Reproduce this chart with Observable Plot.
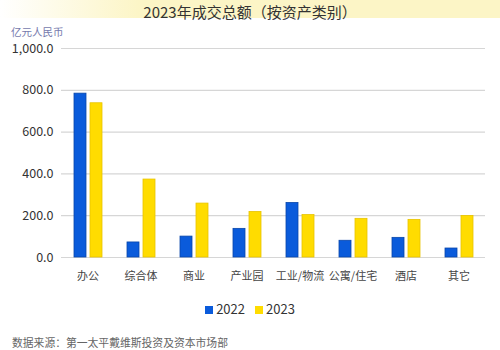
<!DOCTYPE html>
<html>
<head>
<meta charset="utf-8">
<script src="https://cdn.jsdelivr.net/npm/d3@7"></script>
<script src="https://cdn.jsdelivr.net/npm/@observablehq/plot@0.6"></script>
<style>
  html, body { margin: 0; padding: 0; background: #fff; }
  body { width: 500px; height: 350px; position: relative; overflow: hidden;
         font-family: "Noto Sans CJK SC", "Noto Sans", sans-serif; }
  #band { position: absolute; left: 0; top: 0; width: 500px; height: 18px;
          background: linear-gradient(to right, #ffffff 0%, #fcf5c6 28%, #fcf5c6 100%); }
  #title { position: absolute; left: 0; top: 0; width: 500px; text-align: center;
           font-size: 15px; line-height: 23px; font-weight: 400; color: #333; }
  #unit { position: absolute; left: 11px; top: 24px; font-size: 10.5px; line-height: 15px; color: #767aad; }
  #chart { position: absolute; left: 0; top: 38px; }
  #legend { position: absolute; left: 0; top: 300px; width: 500px; text-align: center;
            font-size: 13px; line-height: 18px; color: #333; }
  #legend span.sw { display: inline-block; width: 8px; height: 8px; margin-right: 3px; vertical-align: 0px; }
  #legend span.item { margin: 0 5px; }
  #source { position: absolute; left: 12px; top: 334px; font-size: 10.8px; line-height: 16px; color: #666; }
</style>
</head>
<body>
<div id="band"></div>
<div id="title">2023年成交总额（按资产类别）</div>
<div id="unit">亿元人民币</div>
<div id="chart"></div>
<div id="legend"></div>
<div id="source">数据来源：第一太平戴维斯投资及资本市场部</div>
<script>
const categories = ["办公", "综合体", "商业", "产业园", "工业/物流", "公寓/住宅", "酒店", "其它"];
const years = ["2022", "2023"];
const values2022 = [784, 72, 100, 137, 261, 80, 94, 43];
const values2023 = [738, 373, 258, 218, 203, 185, 180, 199];
const yTicks = [0, 200, 400, 600, 800, 1000];
const colors = ["#0a5bdb", "#ffdc00"];
const strokes = ["#0846aa", "#e8c400"];

const data = [];
categories.forEach((c, i) => {
  data.push({category: c, year: years[0], value: values2022[i]});
  data.push({category: c, year: years[1], value: values2023[i]});
});

const chart = Plot.plot({
  width: 500,
  height: 250,
  marginLeft: 60,
  marginRight: 14,
  marginTop: 10,
  marginBottom: 31,
  style: {fontFamily: "'Noto Sans CJK SC', 'Noto Sans', sans-serif", background: "transparent"},
  fx: {domain: categories, padding: 0, label: null, axis: null},
  x: {domain: years, axis: null, paddingInner: 0.25, paddingOuter: 0.78},
  y: {domain: [0, 1000], ticks: yTicks, grid: false, label: null, axis: null},
  color: {domain: years, range: colors},
  marks: [
    Plot.ruleY(yTicks, {stroke: "#d6d6d6", strokeWidth: 1.2}),
    Plot.barY(data, {fx: "category", x: "year", y: "value", fill: "year",
      stroke: d => strokes[years.indexOf(d.year)], strokeWidth: 0.8}),
    Plot.axisY({ticks: yTicks, tickFormat: d3.format(",.1f"), tickSize: 0, tickPadding: 8,
      fontSize: 12.5, label: null, anchor: "left", fill: "#333"}),
    Plot.axisFx({tickSize: 0, tickPadding: 15, fontSize: 11, fontWeight: "normal", label: null,
      anchor: "bottom", fill: "#444"})
  ]
});
chart.querySelectorAll("text").forEach(t => t.style.fontWeight = "normal");
chart.querySelectorAll("g").forEach(g => { if (g.getAttribute("font-weight")) g.setAttribute("font-weight", "normal"); });
document.getElementById("chart").appendChild(chart);

const legend = document.getElementById("legend");
years.forEach((y, i) => {
  const item = document.createElement("span");
  item.className = "item";
  const sw = document.createElement("span");
  sw.className = "sw";
  sw.style.background = colors[i];
  item.appendChild(sw);
  item.appendChild(document.createTextNode(y));
  legend.appendChild(item);
});
</script>
</body>
</html>
